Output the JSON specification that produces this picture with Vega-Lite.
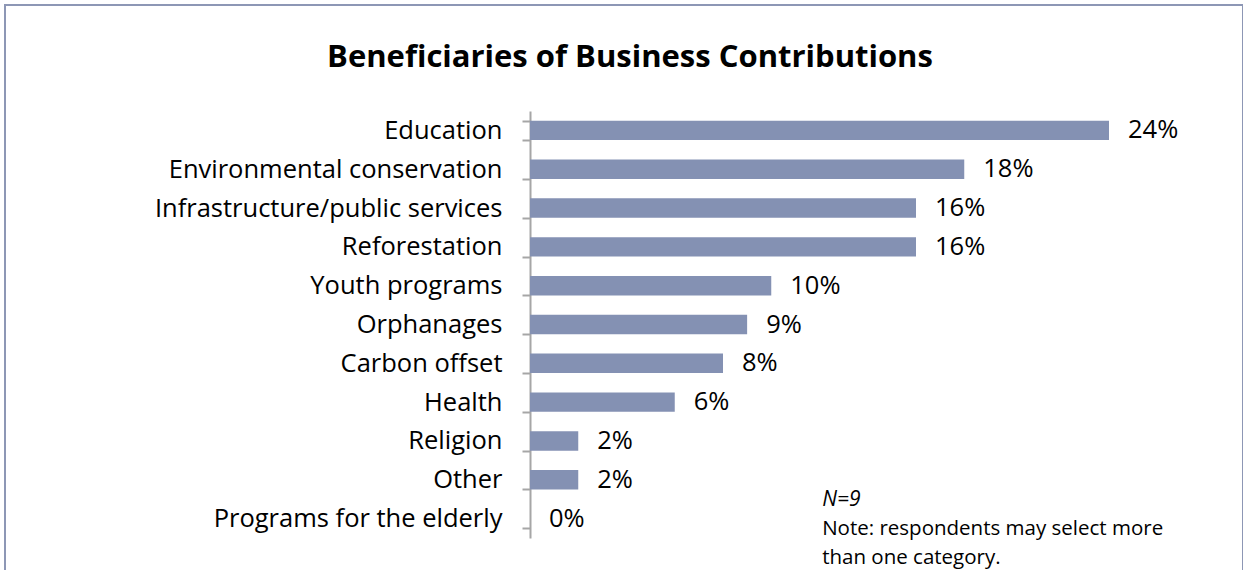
{
  "$schema": "https://vega.github.io/schema/vega-lite/v6.json",
  "autosize": "none",
  "padding": {"left": 5, "top": 5, "right": 0, "bottom": 0},
  "width": 1238,
  "height": 600,
  "background": "white",
  "config": {
    "view": {"stroke": "#8D97B5", "strokeWidth": 2},
    "font": "Open Sans"
  },
  "title": {
    "text": "Beneficiaries of Business Contributions",
    "font": "Open Sans",
    "fontSize": 31,
    "fontWeight": "bold",
    "color": "#000000",
    "anchor": "middle",
    "frame": "group",
    "baseline": "alphabetic",
    "offset": -105,
    "dx": 6
  },
  "data": {
    "values": [
      {"category": "Education", "value": 0.24},
      {"category": "Environmental conservation", "value": 0.18},
      {"category": "Infrastructure/public services", "value": 0.16},
      {"category": "Reforestation", "value": 0.16},
      {"category": "Youth programs", "value": 0.10},
      {"category": "Orphanages", "value": 0.09},
      {"category": "Carbon offset", "value": 0.08},
      {"category": "Health", "value": 0.06},
      {"category": "Religion", "value": 0.02},
      {"category": "Other", "value": 0.02},
      {"category": "Programs for the elderly", "value": 0.0}
    ]
  },
  "encoding": {
    "y": {
      "field": "category",
      "type": "nominal",
      "sort": null,
      "scale": {"range": [106, 533], "paddingInner": 0.5, "paddingOuter": 0.25},
      "axis": {
        "title": null,
        "offset": -525,
        "tickBand": "extent",
        "tickSize": 8,
        "tickColor": "#A6A6A6",
        "tickWidth": 2,
        "domainColor": "#A6A6A6",
        "domainWidth": 2,
        "labelPadding": 20,
        "labelFont": "Open Sans",
        "labelFontSize": 25.5,
        "labelColor": "#000000",
        "labelLimit": 600
      }
    },
    "x": {
      "field": "value",
      "type": "quantitative",
      "scale": {"domain": [0, 0.24], "range": [525, 1104], "nice": false, "zero": false},
      "axis": null
    }
  },
  "layer": [
    {
      "mark": {"type": "bar", "color": "#8491B3"}
    },
    {
      "mark": {"type": "text", "align": "left", "baseline": "middle", "dx": 19, "fontSize": 25.5, "font": "Open Sans", "color": "#000000"},
      "encoding": {
        "text": {"field": "value", "type": "quantitative", "format": ".0%"}
      }
    },
    {
      "data": {"values": [{"t": "N=9", "category": "Other", "x": 0.1211}]},
      "mark": {"type": "text", "align": "left", "baseline": "alphabetic", "dy": 26.5, "fontSize": 21, "font": "Open Sans", "fontStyle": "italic", "color": "#000000"},
      "encoding": {
        "text": {"field": "t", "type": "nominal"},
        "x": {"field": "x", "type": "quantitative"},
        "y": {"field": "category", "type": "nominal"}
      }
    },
    {
      "data": {"values": [{"t": ["Note: respondents may select more", "than one category."], "category": "Programs for the elderly", "x": 0.1211}]},
      "mark": {"type": "text", "align": "left", "baseline": "alphabetic", "dy": 16.4, "lineHeight": 29.5, "fontSize": 20.5, "font": "Open Sans", "color": "#000000"},
      "encoding": {
        "text": {"field": "t", "type": "nominal"},
        "x": {"field": "x", "type": "quantitative"},
        "y": {"field": "category", "type": "nominal"}
      }
    }
  ]
}
